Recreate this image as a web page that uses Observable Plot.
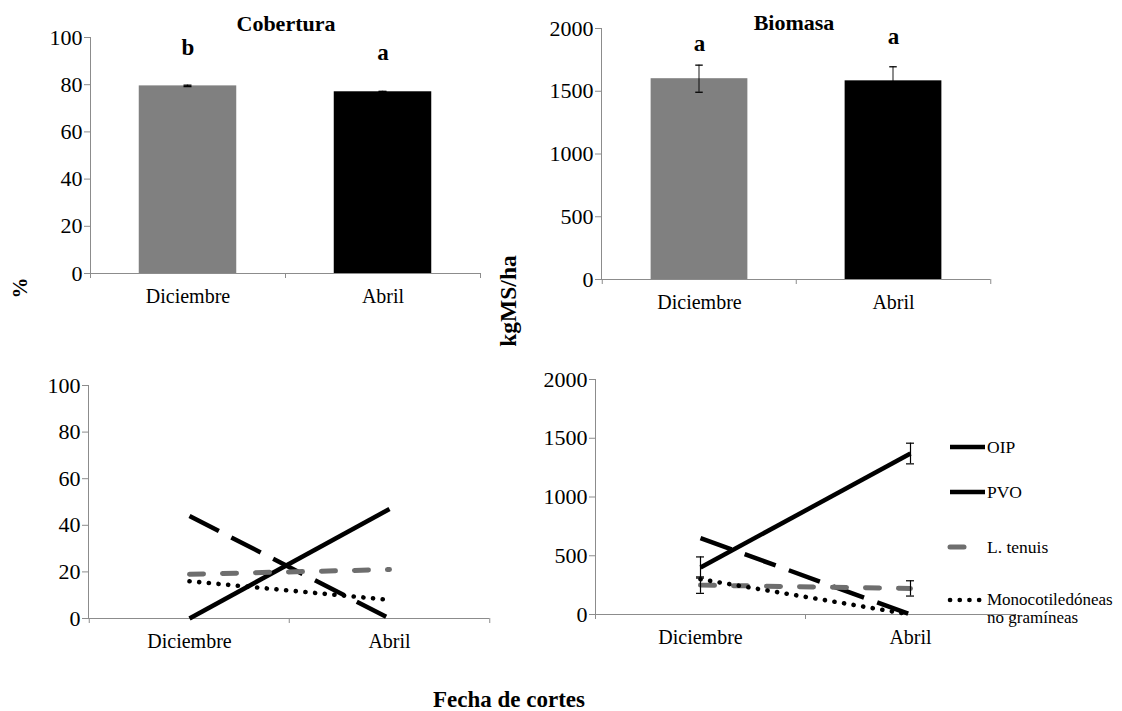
<!DOCTYPE html>
<html><head><meta charset="utf-8">
<script src="https://cdn.jsdelivr.net/npm/d3@7"></script>
<script src="https://cdn.jsdelivr.net/npm/@observablehq/plot@0.6"></script>
<style>
body{margin:0;background:#fff;}
#root{position:relative;width:1122px;height:711px;overflow:hidden;background:#fff;}
#root svg{position:absolute;}
#root svg text{font-family:"Liberation Serif","Times New Roman",serif !important;}
</style></head><body><div id="root"></div>
<script>
// ---------- data ----------
const fechas = ["Diciembre", "Abril"];
const coberturaMedia = [79.5, 77.0];
const coberturaError = [0.3, 0.2];
const coberturaLetras = ["b", "a"];
const biomasaMedia = [1600, 1583];
const biomasaError = [108, 112];
const biomasaLetras = ["a", "a"];
const especies = ["OIP", "PVO", "L. tenuis", "Monocotiledóneas no gramíneas"];
const coberturaOIP = [0, 47];
const coberturaPVO = [44, 0];
const coberturaLTenuis = [19, 21];
const coberturaMono = [16, 8];
const biomasaOIP = [400, 1370];
const biomasaPVO = [650, 0];
const biomasaLTenuis = [250, 222];
const biomasaMono = [300, 0];
const biomasaOIPError = [90, 88];
const biomasaLTenuisError = [70, 65];
const ticksCobertura = [0, 20, 40, 60, 80, 100];
const ticksBiomasa = [0, 500, 1000, 1500, 2000];

// ---------- styles ----------
const FONT = '"Liberation Serif","Times New Roman",serif';
const AXIS = "#8c8c8c";
const YFS = 22;
const XFS = 20;
const barColors = ["#808080", "#000000"];
const lineStyles = {
  "OIP": {stroke: "#000", strokeWidth: 4.5, dash: undefined, cap: "butt"},
  "PVO": {stroke: "#000", strokeWidth: 4.5, dash: "33 14", cap: "butt"},
  "L. tenuis": {stroke: "#6e6e6e", strokeWidth: 5, dash: "14 19", cap: "round"},
  "Monocotiledóneas no gramíneas": {stroke: "#000", strokeWidth: 4.6, dash: "0.1 9.6", cap: "round"}
};
const root = document.getElementById("root");

function put(svg, left, top) {
  svg.style.left = left + "px";
  svg.style.top = top + "px";
  svg.style.fontFamily = FONT;
  d3.select(svg).selectAll("text").attr("font-family", FONT);
  root.appendChild(svg);
}

function axesMarks(step, ticks) {
  return [
    Plot.frame({anchor: "left", stroke: AXIS}),
    Plot.ruleY([0], {stroke: AXIS}),
    Plot.axisY({ticks, tickSize: 6, tickPadding: 2, stroke: AXIS, fill: "#000", fontSize: YFS, fontFamily: FONT, tickFormat: d => String(d), label: null}),
    Plot.axisX({tickSize: 0, tickPadding: 15, fontSize: XFS, fontFamily: FONT, fill: "#000", label: null}),
    Plot.axisX({tickSize: 5, tickFormat: () => "", dx: -step / 2, stroke: AXIS, label: null}),
    Plot.axisX({ticks: [fechas[fechas.length - 1]], tickSize: 5, tickFormat: () => "", dx: step / 2, stroke: AXIS, label: null})
  ];
}

function barPanel({left, top, width, height, mL, mR, mT, mB, media, error, letras, yMax, ticks, letterDy}) {
  const step = (width - mL - mR) / 2;
  const data = fechas.map((f, i) => ({fecha: f, v: media[i], e: error[i], letra: letras[i], i}));
  const marks = [
    Plot.barY(data, {x: "fecha", y: "v", fill: d => barColors[d.i], insetLeft: step / 4, insetRight: step / 4}),
    Plot.barY(data, {x: "fecha", y1: d => d.v - d.e, y2: d => d.v + d.e, fill: "#000", insetLeft: step / 2 - 0.7, insetRight: step / 2 - 0.7}),
    Plot.tickY(data, {x: "fecha", y: d => d.v + d.e, stroke: "#000", strokeWidth: 1.3, insetLeft: step / 2 - 4, insetRight: step / 2 - 4}),
    Plot.tickY(data, {x: "fecha", y: d => d.v - d.e, stroke: "#000", strokeWidth: 1.3, insetLeft: step / 2 - 4, insetRight: step / 2 - 4}),
    ...axesMarks(step, ticks)
  ];
  data.forEach((d, i) => {
    marks.push(Plot.text([d], {x: "fecha", y: r => r.v + r.e, text: "letra", dy: letterDy[i], lineAnchor: "bottom", fontWeight: "bold", fontSize: 23, fontFamily: FONT, fill: "#000"}));
  });
  const svg = Plot.plot({
    width, height, marginLeft: mL, marginRight: mR, marginTop: mT, marginBottom: mB,
    style: {fontFamily: FONT, fontSize: XFS + "px", background: "transparent", color: "#000", overflow: "visible"},
    x: {type: "band", domain: fechas, padding: 0},
    y: {domain: [0, yMax]},
    marks
  });
  put(svg, left, top);
}

function linePanel({left, top, width, height, mL, mR, mT, mB, series, errors, yMax, ticks}) {
  const step = (width - mL - mR) / 2;
  const rows = [];
  especies.forEach((sp, k) => fechas.forEach((f, i) => rows.push({especie: sp, fecha: f, v: series[k][i]})));
  const marks = [...axesMarks(step, ticks)];
  especies.forEach(sp => {
    const st = lineStyles[sp];
    marks.push(Plot.line(rows.filter(d => d.especie === sp), {
      x: "fecha", y: "v", stroke: st.stroke, strokeWidth: st.strokeWidth,
      strokeDasharray: st.dash, strokeLinecap: st.cap
    }));
  });
  if (errors) {
    const er = [];
    errors.forEach(({especie, e}) => {
      const k = especies.indexOf(especie);
      fechas.forEach((f, i) => er.push({fecha: f, v: series[k][i], e: e[i]}));
    });
    marks.push(
      Plot.ruleX(er, {x: "fecha", y1: d => d.v - d.e, y2: d => d.v + d.e, stroke: "#000", strokeWidth: 1.2}),
      Plot.ruleY(er, {x1: "fecha", x2: "fecha", y: d => d.v + d.e, insetLeft: -4, insetRight: -4, stroke: "#000", strokeWidth: 1.2}),
      Plot.ruleY(er, {x1: "fecha", x2: "fecha", y: d => d.v - d.e, insetLeft: -4, insetRight: -4, stroke: "#000", strokeWidth: 1.2})
    );
  }
  const svg = Plot.plot({
    width, height, marginLeft: mL, marginRight: mR, marginTop: mT, marginBottom: mB,
    style: {fontFamily: FONT, fontSize: XFS + "px", background: "transparent", color: "#000", overflow: "visible"},
    x: {type: "point", domain: fechas, padding: 0.5},
    y: {domain: [0, yMax]},
    marks
  });
  put(svg, left, top);
}

barPanel({left: 0, top: 0, width: 500, height: 320, mL: 90, mR: 20, mT: 37, mB: 47,
  media: coberturaMedia, error: coberturaError, letras: coberturaLetras, yMax: 100, ticks: ticksCobertura, letterDy: [-30, -31]});
barPanel({left: 510, top: 0, width: 500, height: 320, mL: 91, mR: 20, mT: 28, mB: 41,
  media: biomasaMedia, error: biomasaError, letras: biomasaLetras, yMax: 2000, ticks: ticksBiomasa, letterDy: [-14, -23]});
linePanel({left: 0, top: 340, width: 510, height: 340, mL: 88, mR: 21, mT: 45, mB: 62,
  series: [coberturaOIP, coberturaPVO, coberturaLTenuis, coberturaMono], errors: null, yMax: 100, ticks: ticksCobertura});
linePanel({left: 510, top: 340, width: 612, height: 340, mL: 85, mR: 107, mT: 39, mB: 66,
  series: [biomasaOIP, biomasaPVO, biomasaLTenuis, biomasaMono],
  errors: [{especie: "OIP", e: biomasaOIPError}, {especie: "L. tenuis", e: biomasaLTenuisError}],
  yMax: 2000, ticks: ticksBiomasa});

// ---------- overlay texts & legend ----------
const ov = d3.create("svg").attr("width", 1122).attr("height", 711)
  .style("left", "0px").style("top", "0px").style("pointer-events", "none");
function txt(sel) { return sel.append("text").attr("font-family", FONT).attr("fill", "#000"); }
txt(ov).attr("x", 286).attr("y", 31).attr("text-anchor", "middle").attr("font-weight", "bold").attr("font-size", 22).text("Cobertura");
txt(ov).attr("x", 794).attr("y", 30).attr("text-anchor", "middle").attr("font-weight", "bold").attr("font-size", 22).text("Biomasa");
txt(ov).attr("transform", "translate(27,288) rotate(-90)").attr("text-anchor", "middle").attr("font-weight", "bold").attr("font-size", 21).text("%");
txt(ov).attr("transform", "translate(516,301) rotate(-90)").attr("text-anchor", "middle").attr("font-weight", "bold").attr("font-size", 23.5).text("kgMS/ha");
txt(ov).attr("x", 509).attr("y", 707).attr("text-anchor", "middle").attr("font-weight", "bold").attr("font-size", 23).text("Fecha de cortes");

const legendY = [447, 492, 547, 600];
const legendLen = [35, 35, 20, 35];
especies.forEach((sp, k) => {
  const st = lineStyles[sp];
  const y = legendY[k];
  ov.append("line").attr("x1", 950).attr("x2", 950 + legendLen[k]).attr("y1", y).attr("y2", y)
    .attr("stroke", st.stroke).attr("stroke-width", st.strokeWidth)
    .attr("stroke-dasharray", k === 1 ? null : st.dash).attr("stroke-linecap", st.cap);
  if (k === 3) {
    txt(ov).attr("x", 987).attr("y", y + 5).attr("font-size", 17).text("Monocotiledóneas");
    txt(ov).attr("x", 987).attr("y", y + 23).attr("font-size", 17).text("no gramíneas");
  } else {
    txt(ov).attr("x", 987).attr("y", y + 6).attr("font-size", 17.5).text(sp);
  }
});
root.appendChild(ov.node());
</script>
</body></html>
